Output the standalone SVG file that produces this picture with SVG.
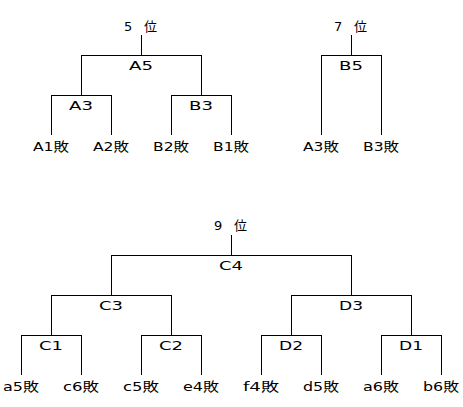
<svg xmlns="http://www.w3.org/2000/svg" width="463" height="407" viewBox="0 0 463 407">
<style>
text{font-family:"DejaVu Sans","Noto Sans CJK JP",sans-serif;font-size:13px;fill:#000;text-anchor:middle}
text.t{text-anchor:start}
.c{fill:none;stroke:#000;stroke-width:1;shape-rendering:crispEdges}
</style>
<rect width="463" height="407" fill="#fff"/>
<g id="connectors" class="c">
<path d="M141.5 35V55.5M81.5 95V55.5H201.5V95M51.5 135V95.5H111.5V135M171.5 135V95.5H231.5V135"/>
<path d="M351.5 35V55.5M321.5 135V55.5H381.5V135"/>
<path d="M231.5 235V255.5M111.5 295V255.5H351.5V295M51.5 335V295.5H171.5V335M291.5 335V295.5H411.5V335M21.5 375V335.5H81.5V375M141.5 375V335.5H201.5V375M261.5 375V335.5H321.5V375M381.5 375V335.5H441.5V375"/>
</g>
<g id="rank5"><text class="t" x="124" y="31" textLength="33">5 位</text></g>
<g id="A5"><text x="141" y="70" textLength="24" lengthAdjust="spacingAndGlyphs">A5</text></g>
<g id="A3"><text x="81" y="110" textLength="24" lengthAdjust="spacingAndGlyphs">A3</text></g>
<g id="B3"><text x="201" y="110" textLength="24" lengthAdjust="spacingAndGlyphs">B3</text></g>
<g id="A1L"><text x="51" y="151" textLength="36" lengthAdjust="spacingAndGlyphs">A1敗</text></g>
<g id="A2L"><text x="111" y="151" textLength="36" lengthAdjust="spacingAndGlyphs">A2敗</text></g>
<g id="B2L"><text x="171" y="151" textLength="36" lengthAdjust="spacingAndGlyphs">B2敗</text></g>
<g id="B1L"><text x="231" y="151" textLength="36" lengthAdjust="spacingAndGlyphs">B1敗</text></g>
<g id="rank7"><text class="t" x="334" y="31" textLength="33">7 位</text></g>
<g id="B5"><text x="351" y="70" textLength="24" lengthAdjust="spacingAndGlyphs">B5</text></g>
<g id="A3L"><text x="321" y="151" textLength="36" lengthAdjust="spacingAndGlyphs">A3敗</text></g>
<g id="B3L"><text x="381" y="151" textLength="36" lengthAdjust="spacingAndGlyphs">B3敗</text></g>
<g id="rank9"><text class="t" x="214" y="230" textLength="33">9 位</text></g>
<g id="C4"><text x="231" y="270" textLength="24" lengthAdjust="spacingAndGlyphs">C4</text></g>
<g id="C3"><text x="111" y="310" textLength="24" lengthAdjust="spacingAndGlyphs">C3</text></g>
<g id="D3"><text x="351" y="310" textLength="24" lengthAdjust="spacingAndGlyphs">D3</text></g>
<g id="C1"><text x="51" y="350" textLength="24" lengthAdjust="spacingAndGlyphs">C1</text></g>
<g id="C2"><text x="171" y="350" textLength="24" lengthAdjust="spacingAndGlyphs">C2</text></g>
<g id="D2"><text x="291" y="350" textLength="24" lengthAdjust="spacingAndGlyphs">D2</text></g>
<g id="D1"><text x="411" y="350" textLength="24" lengthAdjust="spacingAndGlyphs">D1</text></g>
<g id="a5L"><text x="21" y="391" textLength="36" lengthAdjust="spacingAndGlyphs">a5敗</text></g>
<g id="c6L"><text x="81" y="391" textLength="36" lengthAdjust="spacingAndGlyphs">c6敗</text></g>
<g id="c5L"><text x="141" y="391" textLength="36" lengthAdjust="spacingAndGlyphs">c5敗</text></g>
<g id="e4L"><text x="201" y="391" textLength="36" lengthAdjust="spacingAndGlyphs">e4敗</text></g>
<g id="f4L"><text x="261" y="391" textLength="36" lengthAdjust="spacingAndGlyphs">f4敗</text></g>
<g id="d5L"><text x="321" y="391" textLength="36" lengthAdjust="spacingAndGlyphs">d5敗</text></g>
<g id="a6L"><text x="381" y="391" textLength="36" lengthAdjust="spacingAndGlyphs">a6敗</text></g>
<g id="b6L"><text x="441" y="391" textLength="36" lengthAdjust="spacingAndGlyphs">b6敗</text></g>
</svg>
